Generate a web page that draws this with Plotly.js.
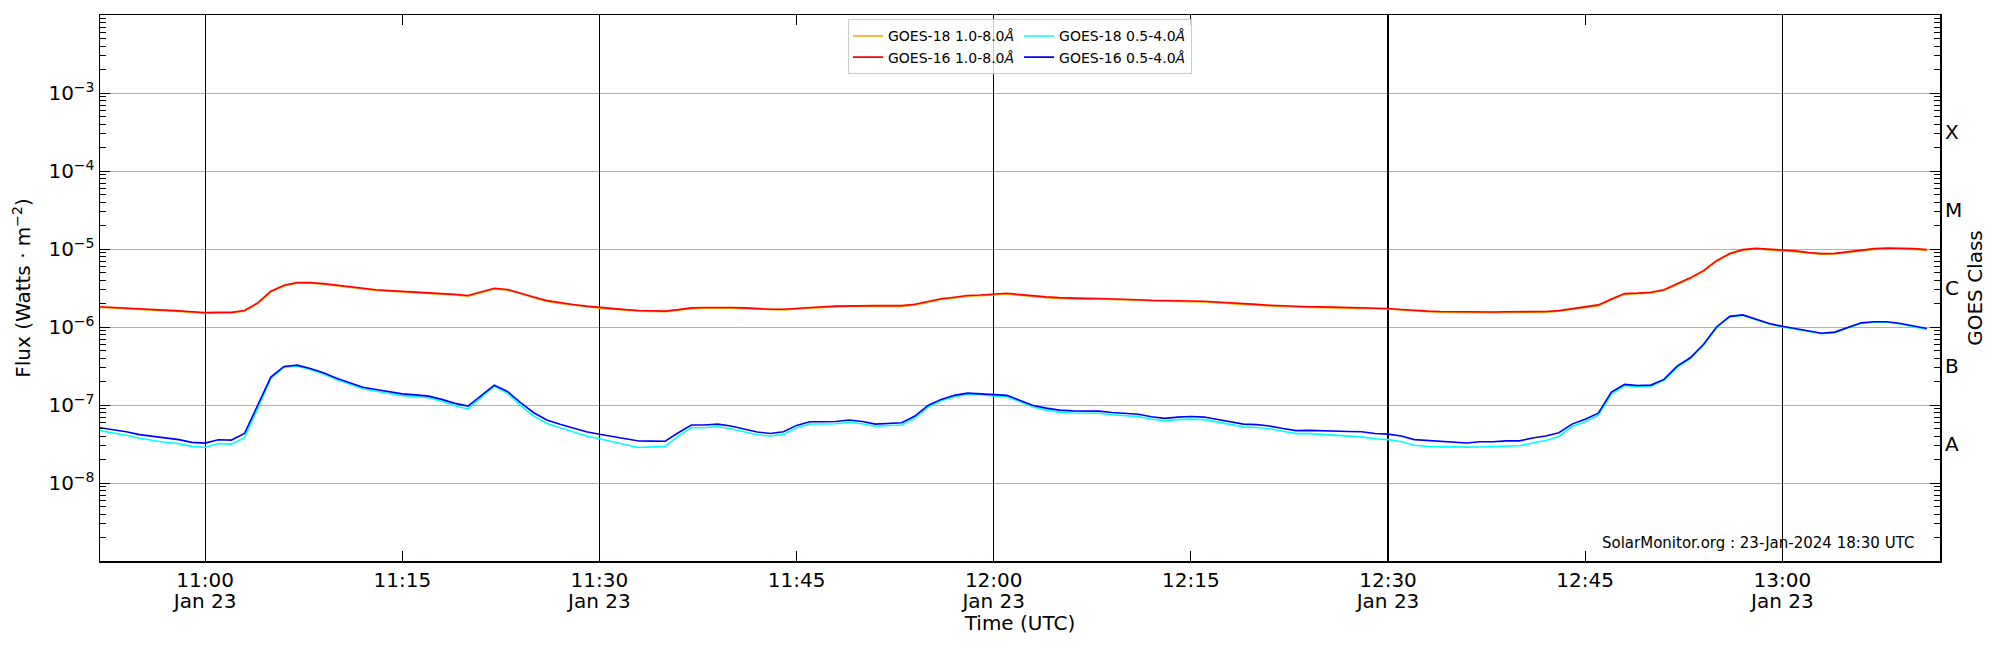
<!DOCTYPE html>
<html>
<head>
<meta charset="utf-8">
<script src="https://cdn.plot.ly/plotly-3.0.1.min.js"></script>
<style>
  html, body { margin: 0; padding: 0; background: #fff; }
  #goes-plot { width: 2000px; height: 650px; }
</style>
</head>
<body>
<div id="goes-plot"></div>
<script>
// one-minute GOES XRS averages, 10:52 .. 13:11 UTC on 2024-01-23
const startTime = "2024-01-23 10:52";
const nPoints = 140;

const goes18Long = [
  1.78e-6, 1.75e-6, 1.72e-6, 1.69e-6, 1.66e-6, 1.62e-6, 1.58e-6, 1.54e-6, 1.50e-6, 1.51e-6,
  1.51e-6, 1.60e-6, 2.00e-6, 2.82e-6, 3.36e-6, 3.64e-6, 3.64e-6, 3.53e-6, 3.38e-6, 3.23e-6,
  3.04e-6, 2.94e-6, 2.87e-6, 2.81e-6, 2.74e-6, 2.71e-6, 2.65e-6, 2.57e-6, 2.48e-6, 2.74e-6,
  3.08e-6, 2.97e-6, 2.69e-6, 2.38e-6, 2.14e-6, 2.00e-6, 1.90e-6, 1.81e-6, 1.74e-6, 1.69e-6,
  1.64e-6, 1.60e-6, 1.58e-6, 1.57e-6, 1.64e-6, 1.72e-6, 1.74e-6, 1.75e-6, 1.74e-6, 1.72e-6,
  1.69e-6, 1.66e-6, 1.66e-6, 1.71e-6, 1.75e-6, 1.78e-6, 1.81e-6, 1.83e-6, 1.84e-6, 1.84e-6,
  1.84e-6, 1.84e-6, 1.92e-6, 2.08e-6, 2.25e-6, 2.36e-6, 2.48e-6, 2.52e-6, 2.58e-6, 2.66e-6,
  2.55e-6, 2.45e-6, 2.38e-6, 2.33e-6, 2.29e-6, 2.28e-6, 2.27e-6, 2.26e-6, 2.23e-6, 2.20e-6,
  2.16e-6, 2.13e-6, 2.12e-6, 2.11e-6, 2.10e-6, 2.06e-6, 2.00e-6, 1.96e-6, 1.91e-6, 1.86e-6,
  1.82e-6, 1.79e-6, 1.78e-6, 1.77e-6, 1.76e-6, 1.75e-6, 1.73e-6, 1.72e-6, 1.70e-6, 1.65e-6,
  1.60e-6, 1.57e-6, 1.55e-6, 1.54e-6, 1.53e-6, 1.53e-6, 1.53e-6, 1.54e-6, 1.54e-6, 1.54e-6,
  1.55e-6, 1.59e-6, 1.69e-6, 1.78e-6, 1.88e-6, 2.23e-6, 2.63e-6, 2.67e-6, 2.73e-6, 2.94e-6,
  3.53e-6, 4.18e-6, 5.17e-6, 6.96e-6, 8.56e-6, 9.62e-6, 1.00e-5, 9.80e-6, 9.62e-6, 9.26e-6,
  8.82e-6, 8.56e-6, 8.62e-6, 9.07e-6, 9.53e-6, 9.90e-6, 1.01e-5, 1.01e-5, 9.90e-6, 9.62e-6,
];

const goes16Long = [
  1.82e-6, 1.79e-6, 1.76e-6, 1.72e-6, 1.69e-6, 1.65e-6, 1.61e-6, 1.57e-6, 1.53e-6, 1.54e-6,
  1.54e-6, 1.63e-6, 2.04e-6, 2.88e-6, 3.43e-6, 3.71e-6, 3.71e-6, 3.60e-6, 3.45e-6, 3.30e-6,
  3.10e-6, 3.00e-6, 2.93e-6, 2.87e-6, 2.80e-6, 2.77e-6, 2.70e-6, 2.62e-6, 2.53e-6, 2.80e-6,
  3.14e-6, 3.03e-6, 2.74e-6, 2.43e-6, 2.18e-6, 2.04e-6, 1.94e-6, 1.85e-6, 1.78e-6, 1.72e-6,
  1.67e-6, 1.63e-6, 1.61e-6, 1.60e-6, 1.67e-6, 1.76e-6, 1.78e-6, 1.79e-6, 1.78e-6, 1.76e-6,
  1.72e-6, 1.69e-6, 1.69e-6, 1.74e-6, 1.79e-6, 1.82e-6, 1.85e-6, 1.87e-6, 1.88e-6, 1.88e-6,
  1.88e-6, 1.88e-6, 1.96e-6, 2.12e-6, 2.30e-6, 2.41e-6, 2.53e-6, 2.57e-6, 2.63e-6, 2.71e-6,
  2.60e-6, 2.50e-6, 2.43e-6, 2.38e-6, 2.34e-6, 2.33e-6, 2.32e-6, 2.31e-6, 2.28e-6, 2.24e-6,
  2.20e-6, 2.17e-6, 2.16e-6, 2.15e-6, 2.14e-6, 2.10e-6, 2.04e-6, 2.00e-6, 1.95e-6, 1.90e-6,
  1.86e-6, 1.83e-6, 1.82e-6, 1.81e-6, 1.80e-6, 1.79e-6, 1.77e-6, 1.75e-6, 1.73e-6, 1.68e-6,
  1.63e-6, 1.60e-6, 1.58e-6, 1.57e-6, 1.56e-6, 1.56e-6, 1.56e-6, 1.57e-6, 1.57e-6, 1.57e-6,
  1.58e-6, 1.62e-6, 1.72e-6, 1.82e-6, 1.92e-6, 2.28e-6, 2.68e-6, 2.72e-6, 2.79e-6, 3.00e-6,
  3.60e-6, 4.27e-6, 5.28e-6, 7.10e-6, 8.73e-6, 9.82e-6, 1.02e-5, 1.00e-5, 9.82e-6, 9.45e-6,
  9.00e-6, 8.73e-6, 8.80e-6, 9.25e-6, 9.72e-6, 1.01e-5, 1.03e-5, 1.03e-5, 1.01e-5, 9.82e-6,
];

const goes18Short = [
  4.70e-8, 4.40e-8, 4.10e-8, 3.75e-8, 3.50e-8, 3.30e-8, 3.20e-8, 2.95e-8, 2.85e-8, 3.20e-8,
  3.15e-8, 3.80e-8, 9.00e-8, 2.20e-7, 3.05e-7, 3.15e-7, 2.85e-7, 2.50e-7, 2.13e-7, 1.85e-7,
  1.62e-7, 1.50e-7, 1.42e-7, 1.32e-7, 1.28e-7, 1.24e-7, 1.12e-7, 9.80e-8, 8.90e-8, 1.25e-7,
  1.74e-7, 1.42e-7, 9.90e-8, 7.20e-8, 5.80e-8, 5.10e-8, 4.50e-8, 4.00e-8, 3.70e-8, 3.35e-8,
  3.10e-8, 2.85e-8, 2.90e-8, 2.95e-8, 4.00e-8, 5.10e-8, 5.10e-8, 5.30e-8, 4.95e-8, 4.50e-8,
  4.15e-8, 4.00e-8, 4.20e-8, 5.10e-8, 5.70e-8, 5.70e-8, 5.75e-8, 6.00e-8, 5.75e-8, 5.35e-8,
  5.40e-8, 5.55e-8, 6.80e-8, 9.40e-8, 1.13e-7, 1.28e-7, 1.37e-7, 1.36e-7, 1.31e-7, 1.28e-7,
  1.10e-7, 9.40e-8, 8.60e-8, 8.10e-8, 7.90e-8, 7.90e-8, 7.85e-8, 7.50e-8, 7.30e-8, 7.10e-8,
  6.60e-8, 6.25e-8, 6.50e-8, 6.60e-8, 6.50e-8, 6.05e-8, 5.70e-8, 5.25e-8, 5.15e-8, 4.95e-8,
  4.60e-8, 4.30e-8, 4.30e-8, 4.20e-8, 4.10e-8, 4.00e-8, 3.90e-8, 3.70e-8, 3.60e-8, 3.40e-8,
  3.05e-8, 2.95e-8, 2.92e-8, 2.90e-8, 2.88e-8, 2.90e-8, 2.92e-8, 2.95e-8, 3.00e-8, 3.25e-8,
  3.50e-8, 3.95e-8, 5.30e-8, 6.10e-8, 7.40e-8, 1.38e-7, 1.78e-7, 1.72e-7, 1.74e-7, 2.07e-7,
  3.05e-7, 3.92e-7, 5.85e-7, 9.80e-7, 1.35e-6, 1.41e-6, 1.23e-6, 1.09e-6, 1.00e-6, 9.40e-7,
  8.80e-7, 8.20e-7, 8.45e-7, 9.80e-7, 1.11e-6, 1.15e-6, 1.15e-6, 1.09e-6, 1.00e-6, 9.40e-7,
];

const goes16Short = [
  5.12e-8, 4.85e-8, 4.55e-8, 4.17e-8, 3.95e-8, 3.75e-8, 3.60e-8, 3.32e-8, 3.25e-8, 3.59e-8,
  3.55e-8, 4.32e-8, 9.70e-8, 2.28e-7, 3.12e-7, 3.24e-7, 2.94e-7, 2.59e-7, 2.21e-7, 1.93e-7,
  1.69e-7, 1.58e-7, 1.49e-7, 1.39e-7, 1.35e-7, 1.30e-7, 1.18e-7, 1.05e-7, 9.70e-8, 1.33e-7,
  1.80e-7, 1.49e-7, 1.07e-7, 7.96e-8, 6.41e-8, 5.65e-8, 5.06e-8, 4.55e-8, 4.21e-8, 3.95e-8,
  3.70e-8, 3.45e-8, 3.44e-8, 3.43e-8, 4.41e-8, 5.53e-8, 5.55e-8, 5.69e-8, 5.37e-8, 4.87e-8,
  4.50e-8, 4.32e-8, 4.55e-8, 5.48e-8, 6.11e-8, 6.11e-8, 6.15e-8, 6.41e-8, 6.15e-8, 5.69e-8,
  5.75e-8, 5.93e-8, 7.21e-8, 9.88e-8, 1.18e-7, 1.33e-7, 1.42e-7, 1.40e-7, 1.36e-7, 1.33e-7,
  1.15e-7, 9.88e-8, 9.12e-8, 8.60e-8, 8.40e-8, 8.40e-8, 8.35e-8, 8.00e-8, 7.80e-8, 7.60e-8,
  7.08e-8, 6.73e-8, 6.99e-8, 7.13e-8, 7.00e-8, 6.55e-8, 6.17e-8, 5.69e-8, 5.60e-8, 5.37e-8,
  5.00e-8, 4.70e-8, 4.73e-8, 4.65e-8, 4.60e-8, 4.58e-8, 4.55e-8, 4.32e-8, 4.23e-8, 4.00e-8,
  3.60e-8, 3.50e-8, 3.47e-8, 3.35e-8, 3.25e-8, 3.38e-8, 3.38e-8, 3.47e-8, 3.47e-8, 3.77e-8,
  4.00e-8, 4.41e-8, 5.69e-8, 6.55e-8, 7.87e-8, 1.46e-7, 1.84e-7, 1.78e-7, 1.80e-7, 2.13e-7,
  3.15e-7, 4.03e-7, 5.97e-7, 1.00e-6, 1.37e-6, 1.43e-6, 1.25e-6, 1.11e-6, 1.02e-6, 9.57e-7,
  8.93e-7, 8.33e-7, 8.60e-7, 9.95e-7, 1.13e-6, 1.17e-6, 1.17e-6, 1.11e-6, 1.02e-6, 9.57e-7,
];

// time labels every 15 min; the half hours also get the date line and the black grid
const timeTicks = [
  "2024-01-23 11:00", "2024-01-23 11:15", "2024-01-23 11:30", "2024-01-23 11:45", "2024-01-23 12:00",
  "2024-01-23 12:15", "2024-01-23 12:30", "2024-01-23 12:45", "2024-01-23 13:00",
];
const timeLabels = ["11:00", "11:15", "11:30", "11:45", "12:00", "12:15", "12:30", "12:45", "13:00"];
const dateTicks = ["2024-01-23 11:00", "2024-01-23 11:30", "2024-01-23 12:00", "2024-01-23 12:30", "2024-01-23 13:00"];
const dateLabels = ["Jan 23", "Jan 23", "Jan 23", "Jan 23", "Jan 23"];

const fluxTicks = [1e-8, 1e-7, 1e-6, 1e-5, 1e-4, 1e-3];
const fluxLabels = ["10<sup>−8</sup>", "10<sup>−7</sup>", "10<sup>−6</sup>", "10<sup>−5</sup>", "10<sup>−4</sup>", "10<sup>−3</sup>"];
const classTicks = [3.162e-8, 3.162e-7, 3.162e-6, 3.162e-5, 3.162e-4];
const classLabels = ["A", "B", "C", "M", "X"];

const xRange = ["2024-01-23 10:52", "2024-01-23 13:12"];
const yRange = [-9, -2];

const pad = (n) => (n < 10 ? "0" + n : "" + n);
const times = [];
const t0 = new Date(startTime.replace(" ", "T") + ":00Z");
for (let i = 0; i < nPoints; i++) {
  const d = new Date(t0.getTime() + i * 60000);
  times.push("2024-01-23 " + pad(d.getUTCHours()) + ":" + pad(d.getUTCMinutes()));
}

// 2..9 x 10^n minor ticks for the log axis
const minorFlux = [];
for (let e = -9; e <= -3; e++) {
  for (let k = 2; k <= 9; k++) minorFlux.push(k * Math.pow(10, e));
}

const FONT = "DejaVu Sans, Liberation Sans, sans-serif";

const makeTrace = (name, y, color, group) => ({
  name: name,
  x: times,
  y: y,
  type: "scatter",
  mode: "lines",
  line: { color: color, width: 1.6 },
  legendgroup: group,
  hoverinfo: "skip",
});

const data = [
  // carrier for the overlay axes (date line, class letters); not visible
  {
    x: times,
    y: goes16Long,
    xaxis: "x2",
    yaxis: "y2",
    mode: "lines",
    line: { width: 0, color: "rgba(0,0,0,0)" },
    opacity: 0,
    showlegend: false,
    hoverinfo: "skip",
  },
  makeTrace("GOES-18 1.0-8.0<i>Å</i>", goes18Long, "orange", "g1"),
  makeTrace("GOES-16 1.0-8.0<i>Å</i>", goes16Long, "red", "g1"),
  makeTrace("GOES-18 0.5-4.0<i>Å</i>", goes18Short, "cyan", "g2"),
  makeTrace("GOES-16 0.5-4.0<i>Å</i>", goes16Short, "blue", "g2"),
];

const layout = {
  width: 2000,
  height: 650,
  margin: { l: 100, r: 60, t: 15, b: 89 },
  paper_bgcolor: "white",
  plot_bgcolor: "white",
  font: { family: FONT, size: 20, color: "black" },
  showlegend: true,
  legend: {
    orientation: "h",
    traceorder: "grouped",
    tracegroupgap: 32,
    x: 0.5,
    xanchor: "center",
    y: 0.992,
    yanchor: "top",
    bgcolor: "rgba(255,255,255,0.8)",
    bordercolor: "#cccccc",
    borderwidth: 1,
    font: { family: FONT, size: 14, color: "black" },
  },
  xaxis: {
    type: "date",
    range: xRange,
    tickmode: "array",
    tickvals: timeTicks,
    ticktext: timeLabels,
    ticks: "inside",
    ticklen: 10,
    tickcolor: "black",
    showgrid: false,
    zeroline: false,
    showline: true,
    linecolor: "black",
    linewidth: 1.5,
    mirror: "ticks",
    title: { text: "Time (UTC)", standoff: 25, font: { size: 20 } },
  },
  xaxis2: {
    type: "date",
    overlaying: "x",
    anchor: "y",
    side: "bottom",
    range: xRange,
    tickmode: "array",
    tickvals: dateTicks,
    ticktext: dateLabels,
    ticks: "",
    ticklabelstandoff: 26,
    showgrid: true,
    gridcolor: "black",
    gridwidth: 1.2,
    zeroline: false,
    showline: false,
  },
  yaxis: {
    type: "log",
    range: yRange,
    tickmode: "array",
    tickvals: fluxTicks,
    ticktext: fluxLabels,
    ticks: "inside",
    ticklen: 10,
    tickcolor: "black",
    minor: { tickmode: "array", tickvals: minorFlux, ticks: "inside", ticklen: 6, tickcolor: "black", showgrid: false },
    showgrid: true,
    gridcolor: "#b0b0b0",
    gridwidth: 1,
    zeroline: false,
    showline: true,
    linecolor: "black",
    linewidth: 1.5,
    mirror: "ticks",
    title: { text: "Flux (Watts · m<sup>−2</sup>)", standoff: 12, font: { size: 20 } },
  },
  yaxis2: {
    type: "log",
    overlaying: "y",
    anchor: "x",
    side: "right",
    range: yRange,
    tickmode: "array",
    tickvals: classTicks,
    ticktext: classLabels,
    ticks: "",
    ticklabelstandoff: 4,
    showgrid: false,
    zeroline: false,
    showline: false,
    title: { text: "GOES Class", standoff: 6, font: { size: 20 } },
  },
  annotations: [
    {
      text: "SolarMonitor.org : 23-Jan-2024 18:30 UTC",
      xref: "paper",
      yref: "paper",
      x: 0.987,
      y: 0.033,
      xanchor: "right",
      yanchor: "middle",
      showarrow: false,
      font: { family: FONT, size: 15, color: "black" },
    },
  ],
};

Plotly.newPlot("goes-plot", data, layout, { displayModeBar: false, staticPlot: true });
</script>
</body>
</html>
